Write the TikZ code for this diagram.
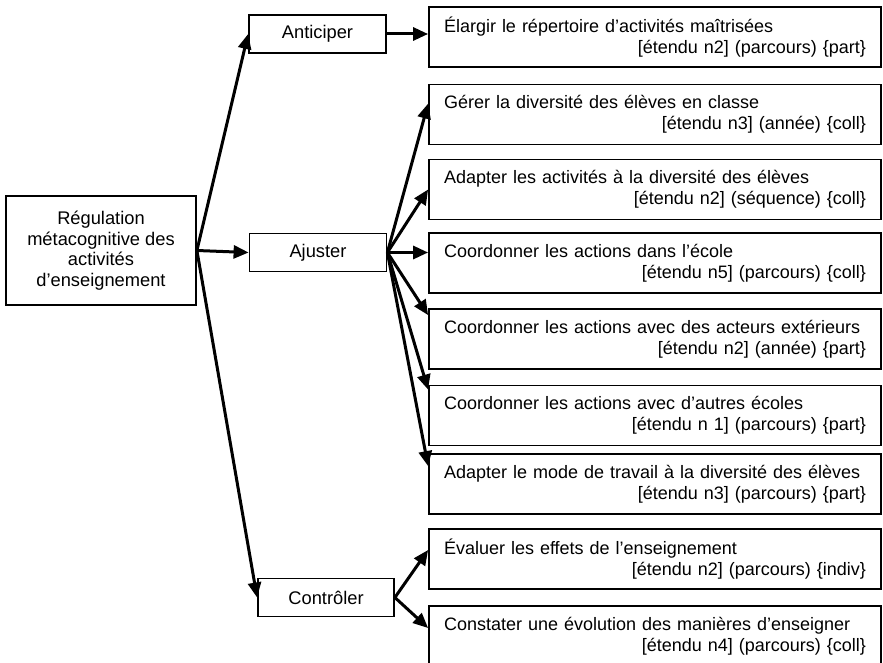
\documentclass[tikz,border=0pt]{standalone}
\usepackage{fontspec}
\setmainfont{Liberation Sans}
\usetikzlibrary{arrows.meta,calc}
\newcommand{\rline}{\hspace*{\fill}}
\newcommand{\leaftext}[2]{\mbox{#1}\\\rline #2}
\begin{document}
\begin{tikzpicture}[x=1pt,y=-1pt,
  box/.style={draw, line width=1.8pt, inner sep=0pt, font=\fontsize{18}{21}\selectfont},
  mid/.style={box, minimum width=137pt, minimum height=38pt},
  leaf/.style={box, minimum width=452pt, minimum height=60pt, text width=422pt, align=left},
  arr/.style={line width=3pt, -{Triangle[length=15pt,width=13pt]}}]
\useasboundingbox (0,0) rectangle (883,663);

\node[box, minimum width=190pt, minimum height=109pt, align=center,
      font=\fontsize{18.3}{20.5}\selectfont] (reg) at (101,250.5)
  {Régulation\\métacognitive des\\activités\\d’enseignement};

\node[mid, font=\fontsize{18.3}{21}\selectfont] (ant) at (317.5,34) {Anticiper};
\node[mid, font=\fontsize{18.3}{21}\selectfont] (aju) at (318,252.5) {Ajuster};
\node[mid, minimum width=136pt, font=\fontsize{18.3}{21}\selectfont] (con) at (326,597.5) {Contrôler};

\node[leaf] (b1) at (655,37)    {\leaftext{Élargir le répertoire d’activités maîtrisées}{[étendu n2] (parcours) \{part\}}};
\node[leaf] (b2) at (655,114.5) {\leaftext{Gérer la diversité des élèves en classe}{[étendu n3] (année) \{coll\}}};
\node[leaf] (b3) at (655,189.5) {\leaftext{Adapter les activités à la diversité des élèves}{[étendu n2] (séquence) \{coll\}}};
\node[leaf] (b4) at (655,263)   {\leaftext{Coordonner les actions dans l’école}{[étendu n5] (parcours) \{coll\}}};
\node[leaf] (b5) at (655,339)   {\leaftext{Coordonner les actions avec des acteurs extérieurs}{[étendu n2] (année) \{part\}}};
\node[leaf] (b6) at (655,415.5) {\leaftext{Coordonner les actions avec d’autres écoles}{[étendu n 1] (parcours) \{part\}}};
\node[leaf] (b7) at (655,484)   {\leaftext{Adapter le mode de travail à la diversité des élèves}{[étendu n3] (parcours) \{part\}}};
\node[leaf] (b8) at (655,559)   {\leaftext{Évaluer les effets de l’enseignement}{[étendu n2] (parcours) \{indiv\}}};
\node[leaf] (b9) at (655,636)   {\leaftext{Constater une évolution des manières d’enseigner}{[étendu n4] (parcours) \{coll\}}};

\draw[arr] (reg.east) -- (ant.west);
\draw[arr] (reg.east) -- (aju.west);
\draw[arr] (reg.east) -- (con.west);

\draw[arr] (ant.east) -- (ant.east -| b1.west);

\draw[arr] (aju.east) -- ($(b2.north west)+(0,20)$);
\draw[arr] (aju.east) -- (b3.west);
\draw[arr] (aju.east) -- (aju.east -| b4.west);
\draw[arr] (aju.east) -- ($(b5.north west)+(0,7)$);
\draw[arr] (aju.east) -- ($(b6.north west)+(0,5)$);
\draw[arr] (aju.east) -- ($(b7.north west)+(0,13)$);

\draw[arr] (con.east) -- ($(b8.west)+(0,-9)$);
\draw[arr] (con.east) -- ($(b9.west)+(0,-8)$);
\end{tikzpicture}
\end{document}
